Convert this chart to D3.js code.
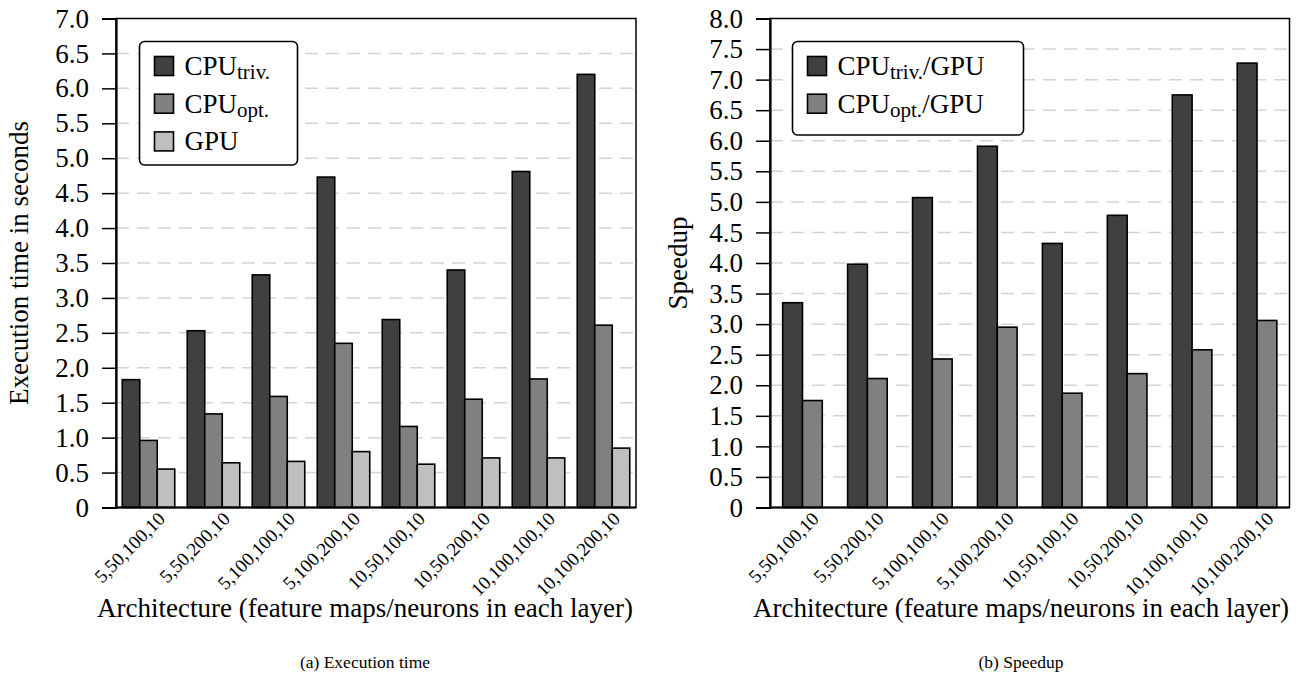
<!DOCTYPE html>
<html>
<head>
<meta charset="utf-8">
<script src="https://cdn.jsdelivr.net/npm/d3@7"></script>
<style>
	body { margin: 0; background: #fff; }
</style>
</head>
<body>
<svg id="fig" width="1299" height="684"></svg>
<script>
var architectures = ["5,50,100,10", "5,50,200,10", "5,100,100,10", "5,100,200,10",
	"10,50,100,10", "10,50,200,10", "10,100,100,10", "10,100,200,10"];

// (a) execution time in seconds
var cpuTrivTime = [1.83, 2.53, 3.33, 4.73, 2.69, 3.40, 4.81, 6.20];
var cpuOptTime = [0.96, 1.34, 1.59, 2.35, 1.16, 1.55, 1.84, 2.61];
var gpuTime = [0.55, 0.64, 0.66, 0.80, 0.62, 0.71, 0.71, 0.85];

// (b) speedup
var speedupTriv = [3.35, 3.98, 5.07, 5.91, 4.32, 4.78, 6.75, 7.27];
var speedupOpt = [1.75, 2.11, 2.43, 2.95, 1.87, 2.19, 2.58, 3.06];

var timeTicks = d3.range(0, 7.01, 0.5);
var speedupTicks = d3.range(0, 8.01, 0.5);

var colors = ["#404040", "#808080", "#bfbfbf"];
var SERIF = "'Liberation Serif', 'DejaVu Serif', serif";

var svg = d3.select("#fig")
	.attr("font-family", SERIF);

function drawChart(opt) {
	var g = svg.append("g");
	var x = d3.scaleBand()
		.domain(architectures)
		.range([opt.left, opt.right])
		.paddingInner(0).paddingOuter(0);
	var y = d3.scaleLinear()
		.domain([0, opt.max])
		.range([opt.bottom, opt.top]);

	// dashed grid
	g.append("g").selectAll("line")
		.data(opt.ticks.filter(function(d) { return d > 0 && d < opt.max; }))
		.enter().append("line")
		.attr("x1", opt.left).attr("x2", opt.right)
		.attr("y1", function(d) { return y(d); })
		.attr("y2", function(d) { return y(d); })
		.attr("stroke", "#d4d4d4")
		.attr("stroke-width", 1.5)
		.attr("stroke-dasharray", "13,8");

	// bars
	var n = opt.series.length;
	for (var s = 0; s < n; ++s) {
		(function(s) {
			g.append("g").selectAll("rect")
				.data(opt.series[s].values)
				.enter().append("rect")
				.attr("x", function(d, i) {
					return x(architectures[i]) + x.bandwidth() / 2 - n * opt.barWidth / 2 + s * opt.barWidth;
				})
				.attr("y", function(d) { return y(d); })
				.attr("width", opt.barWidth)
				.attr("height", function(d) { return y(0) - y(d); })
				.attr("fill", colors[s])
				.attr("stroke", "#000")
				.attr("stroke-width", 1.6);
		})(s);
	}

	// frame
	g.append("rect")
		.attr("x", opt.left).attr("y", opt.top)
		.attr("width", opt.right - opt.left)
		.attr("height", opt.bottom - opt.top)
		.attr("fill", "none")
		.attr("stroke", "#000")
		.attr("stroke-width", 1.5);

	// y axis
	var yAxis = d3.axisLeft(y)
		.tickValues(opt.ticks)
		.tickSize(14)
		.tickPadding(13)
		.tickFormat(function(d) { return d == 0 ? "0" : d3.format(".1f")(d); });
	var ya = g.append("g")
		.attr("transform", "translate(" + opt.left + ",0)")
		.call(yAxis)
		.attr("font-family", SERIF)
		.attr("font-size", null);
	ya.select(".domain").attr("stroke-width", 2.2);
	ya.selectAll(".tick line").attr("stroke-width", 1.5);
	ya.selectAll("text")
		.style("font-family", SERIF)
		.style("font-size", "27px");
	g.append("line")
		.attr("x1", opt.left).attr("x2", opt.right)
		.attr("y1", opt.bottom).attr("y2", opt.bottom)
		.attr("stroke", "#000").attr("stroke-width", 2.2);

	// x tick labels
	g.append("g").selectAll("text")
		.data(architectures)
		.enter().append("text")
		.attr("transform", function(d) {
			return "translate(" + (x(d) + x.bandwidth() / 2 + 13) + "," + (opt.bottom + 8) + ") rotate(-45)";
		})
		.attr("text-anchor", "end")
		.attr("dominant-baseline", "central")
		.style("font-family", SERIF)
		.style("font-size", "19px")
		.text(function(d) { return d; });

	// axis titles
	g.append("text")
		.attr("transform", "translate(" + opt.yTitleX + "," + ((opt.top + opt.bottom) / 2) + ") rotate(-90)")
		.attr("text-anchor", "middle")
		.style("font-family", SERIF)
		.style("font-size", "27px")
		.text(opt.yTitle);
	g.append("text")
		.attr("x", opt.titleCx).attr("y", 617)
		.attr("text-anchor", "middle")
		.style("font-family", SERIF)
		.style("font-size", "27px")
		.text("Architecture (feature maps/neurons in each layer)");
	g.append("text")
		.attr("x", opt.titleCx).attr("y", 668)
		.attr("text-anchor", "middle")
		.style("font-family", SERIF)
		.style("font-size", "17.5px")
		.text(opt.caption);

	// legend
	var lg = g.append("g");
	lg.append("rect")
		.attr("x", opt.legend.x).attr("y", opt.legend.y)
		.attr("width", opt.legend.w).attr("height", opt.legend.h)
		.attr("rx", 5).attr("ry", 5)
		.attr("fill", "#fff").attr("stroke", "#000").attr("stroke-width", 1.6);
	opt.series.forEach(function(d, i) {
		var cy = opt.legend.y + 24.5 + i * 37.7;
		lg.append("rect")
			.attr("x", opt.legend.x + 15).attr("y", cy - 9.5)
			.attr("width", 19).attr("height", 19)
			.attr("fill", colors[i]).attr("stroke", "#000").attr("stroke-width", 1.6);
		var t = lg.append("text")
			.attr("x", opt.legend.x + 45).attr("y", cy + 9)
			.style("font-family", SERIF)
			.style("font-size", "27px");
		t.append("tspan").text(d.name);
		if (d.sub) {
			t.append("tspan").attr("dy", 4).style("font-size", "21px").text(d.sub);
			if (d.after) t.append("tspan").attr("dy", -4).text(d.after);
		}
	});
}

drawChart({
	left: 116, right: 636, top: 18.5, bottom: 507.5,
	max: 7, ticks: timeTicks, barWidth: 17.5,
	series: [
		{ name: "CPU", sub: "triv.", values: cpuTrivTime },
		{ name: "CPU", sub: "opt.", values: cpuOptTime },
		{ name: "GPU", values: gpuTime }
	],
	yTitle: "Execution time in seconds", yTitleX: 28,
	titleCx: 365, caption: "(a)  Execution time",
	legend: { x: 139.5, y: 41.5, w: 158, h: 123.5 }
});

drawChart({
	left: 770, right: 1289.5, top: 18.5, bottom: 507.5,
	max: 8, ticks: speedupTicks, barWidth: 19.8,
	series: [
		{ name: "CPU", sub: "triv.", after: "/GPU", values: speedupTriv },
		{ name: "CPU", sub: "opt.", after: "/GPU", values: speedupOpt }
	],
	yTitle: "Speedup", yTitleX: 687,
	titleCx: 1021, caption: "(b)  Speedup",
	legend: { x: 792.5, y: 41.5, w: 231, h: 93.5 }
});
</script>
</body>
</html>
